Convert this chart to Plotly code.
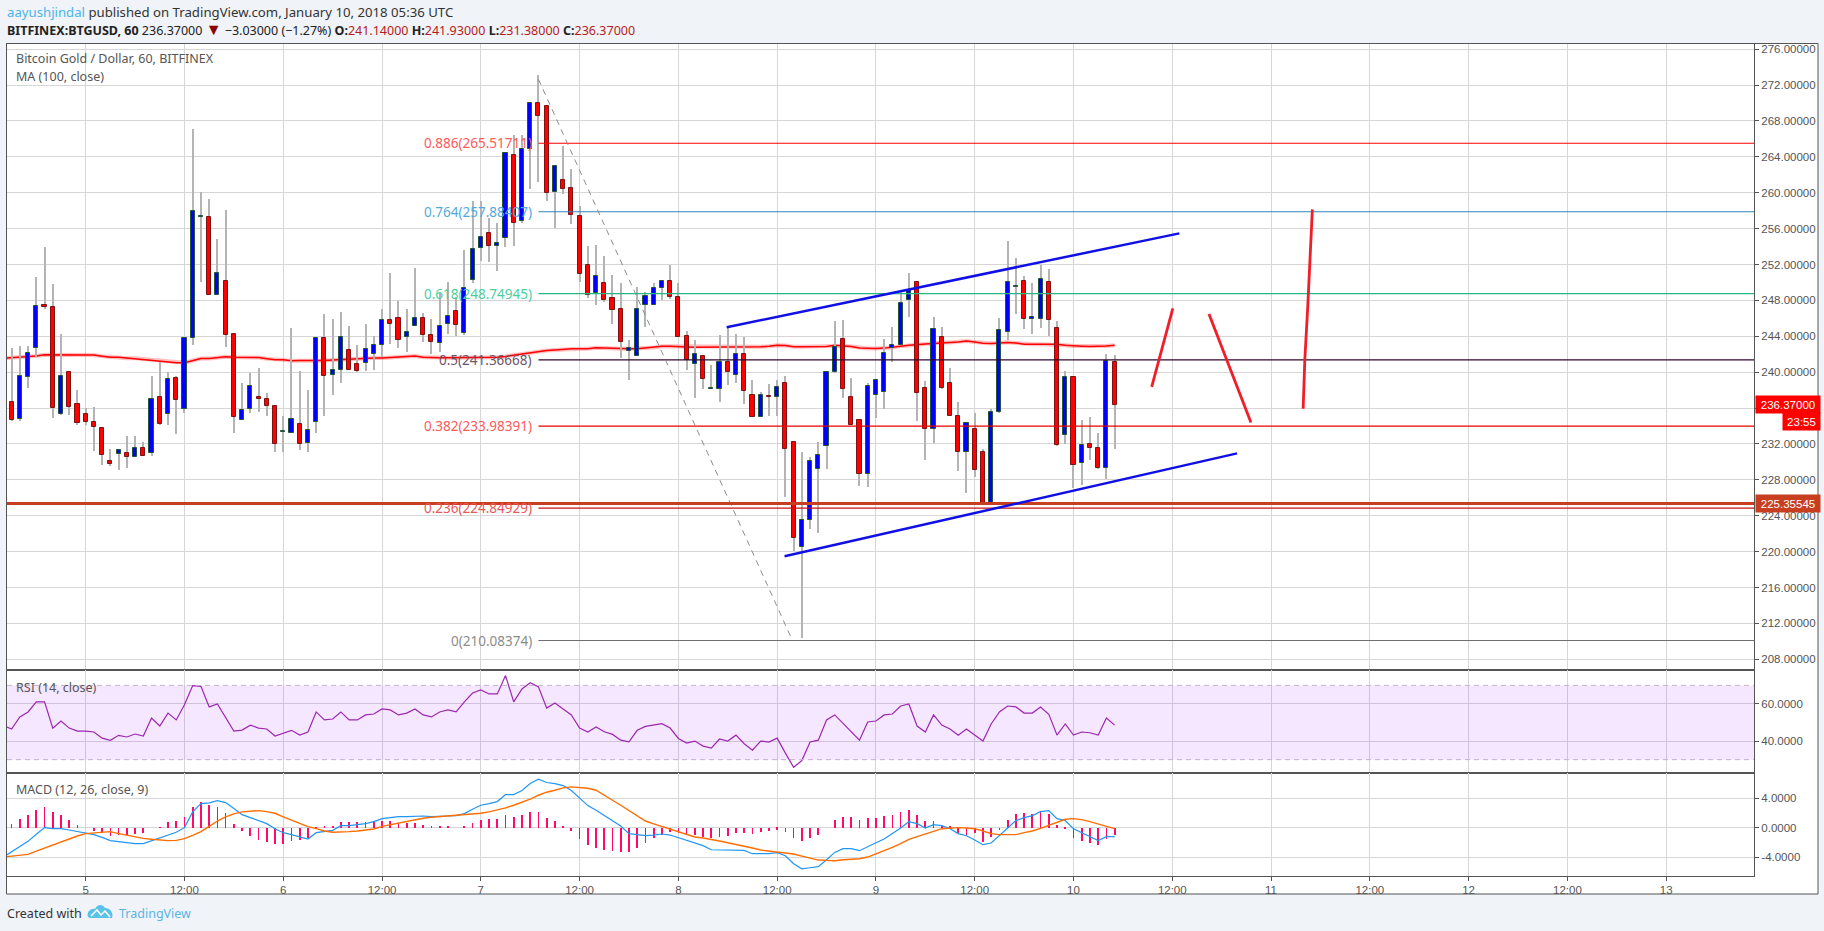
import plotly.graph_objects as go

# Hourly bars, hour 0 is Jan 5 00:00
opens = [236.7, 234.76, 239.44, 242.68, 247.45, 247.29, 235.32, 240.04, 236.47, 235.35, 234.46, 233.8, 230.11, 230.85, 231.0,
         230.52, 231.56, 230.97, 237.25, 235.32, 239.37, 235.91, 243.8, 257.3, 257.32, 248.62, 250.19, 244.28, 234.68, 235.91,
         237.25, 237.03, 236.25, 233.3, 233.25, 234.18, 232.06, 234.4, 243.77, 239.64, 240.2, 242.43, 240.87, 240.98, 241.99,
         242.99, 245.78, 246.0, 243.88, 245.11, 246.0, 244.1, 243.21, 245.33, 246.78, 244.33, 250.24, 253.81, 255.48, 254.03,
         254.96, 264.24, 256.85, 264.91, 270.03, 269.7, 260.12, 261.45, 260.56, 257.44, 251.99, 248.79, 249.98, 248.31, 247.08,
         242.4, 241.85, 247.53, 247.53, 249.42, 250.2, 248.42, 244.0, 240.96, 241.85, 238.15, 238.17, 241.18, 239.73, 242.07,
         237.5, 235.05, 237.32, 237.28, 238.84, 232.17, 220.46, 223.47, 229.16, 231.72, 239.97, 243.65, 237.19, 234.62, 228.6,
         237.41, 237.74, 242.72, 243.06, 248.0, 250.01, 238.19, 233.69, 243.88, 238.75, 235.07, 231.13, 233.62, 231.05, 225.37,
         235.51, 244.44, 249.45, 250.12, 245.96, 245.96, 250.01, 244.88, 232.95, 239.42, 229.83, 231.94, 231.5, 229.27, 241.14]
highs = [242.64, 242.97, 242.97, 250.56, 254.0, 249.78, 244.2, 240.1, 237.96, 236.02, 236.17, 233.94, 231.45, 231.4, 232.94,
         232.83, 232.27, 239.52, 241.12, 240.04, 239.6, 243.85, 267.06, 260.04, 259.26, 254.8, 258.03, 244.3, 238.74, 239.96,
         240.52, 237.73, 236.3, 235.06, 244.92, 240.09, 238.01, 243.8, 246.45, 245.93, 246.67, 245.14, 243.03, 245.37, 244.03,
         247.0, 251.02, 247.93, 247.04, 251.58, 246.56, 245.93, 248.79, 250.01, 248.42, 253.62, 259.07, 259.07, 257.19, 256.63,
         264.5, 266.4, 266.4, 270.03, 273.08, 269.7, 263.0, 265.24, 262.68, 258.56, 254.03, 254.14, 252.91, 250.8, 249.98,
         243.63, 249.53, 248.9, 249.98, 250.2, 251.91, 249.91, 244.56, 243.56, 241.9, 240.77, 244.11, 245.04, 244.3, 243.96,
         239.1, 237.84, 238.65, 239.1, 239.55, 232.2, 231.09, 230.5, 232.2, 240.0, 245.7, 245.81, 239.3, 234.6, 238.75,
         239.2, 243.69, 245.0, 249.04, 251.05, 250.05, 239.0, 246.15, 245.0, 240.46, 236.63, 234.3, 235.4, 231.4, 235.85,
         246.0, 254.62, 252.69, 250.68, 249.94, 252.0, 251.46, 245.66, 240.09, 239.45, 234.62, 234.96, 233.17, 241.98, 241.93]
lows = [234.6, 234.54, 238.22, 241.67, 247.03, 234.87, 235.2, 235.17, 234.09, 234.09, 231.19, 229.63, 229.59, 229.07, 229.29,
        230.5, 230.6, 230.63, 234.09, 234.09, 233.09, 235.43, 243.0, 250.0, 248.6, 248.6, 242.8, 233.2, 234.65, 235.43,
        235.54, 235.1, 231.08, 231.08, 233.17, 231.35, 231.13, 233.25, 235.14, 237.45, 238.83, 240.2, 240.0, 240.13, 240.24,
        241.65, 243.1, 242.69, 242.25, 245.1, 243.36, 242.06, 242.25, 244.25, 244.03, 244.1, 249.9, 252.43, 252.32, 251.32,
        253.95, 254.06, 256.63, 260.45, 261.2, 259.08, 256.07, 259.82, 256.52, 250.05, 248.31, 247.45, 247.86, 245.34, 241.59,
        239.14, 241.8, 245.04, 247.5, 248.01, 248.2, 243.9, 240.21, 237.13, 238.17, 238.1, 236.69, 238.58, 238.8, 236.46,
        235.0, 235.0, 235.13, 235.13, 226.11, 220.05, 210.42, 222.54, 222.1, 229.23, 239.9, 237.15, 234.1, 227.3, 227.22,
        234.92, 235.92, 241.16, 243.0, 246.15, 234.55, 230.2, 232.13, 238.12, 235.1, 229.01, 226.55, 228.3, 225.3, 225.3,
        235.4, 243.58, 246.48, 244.84, 244.29, 244.88, 243.99, 231.8, 231.94, 227.04, 227.37, 230.23, 229.25, 228.12, 231.38]
closes = [234.65, 239.6, 242.16, 247.4, 247.25, 235.99, 239.6, 236.1, 234.31, 234.42, 233.87, 230.74, 229.74, 231.34, 230.52,
          231.56, 230.63, 237.03, 234.2, 239.26, 236.88, 243.83, 258.0, 257.43, 248.62, 251.08, 244.13, 234.98, 235.8, 238.48,
          237.0, 236.21, 231.97, 233.46, 234.74, 232.02, 233.51, 243.77, 239.53, 240.2, 243.88, 240.28, 240.09, 242.54, 242.99,
          245.78, 245.33, 243.55, 244.44, 246.0, 244.1, 243.32, 245.11, 246.22, 245.29, 249.35, 253.7, 255.03, 254.03, 254.36,
          264.46, 256.63, 264.91, 270.03, 268.58, 260.01, 263.01, 260.45, 257.52, 250.98, 248.64, 250.76, 248.09, 246.97, 243.37,
          242.74, 247.08, 248.53, 249.42, 250.2, 248.42, 243.93, 241.4, 242.07, 239.29, 238.2, 241.18, 240.07, 242.07, 237.95,
          235.05, 237.5, 237.24, 238.4, 231.46, 221.46, 223.47, 230.05, 230.72, 239.97, 242.76, 238.08, 234.14, 228.6, 238.41,
          239.08, 242.09, 242.99, 247.67, 249.16, 237.71, 233.69, 244.77, 238.26, 235.14, 231.13, 234.29, 229.12, 225.37, 235.51,
          244.66, 250.01, 249.57, 245.88, 246.11, 250.35, 245.77, 231.83, 239.42, 229.6, 231.83, 231.5, 229.27, 241.2, 236.37]

# Indicators start one bar earlier, that bar is clipped by the left edge
ma_100 = [241.55, 241.6, 241.62, 241.7, 241.8, 241.93, 241.93, 241.93, 241.93, 241.93, 241.93, 241.9, 241.78, 241.67, 241.65,
          241.56, 241.55, 241.45, 241.35, 241.25, 241.15, 241.05, 241.04, 241.3, 241.52, 241.52, 241.65, 241.71, 241.66, 241.65,
          241.65, 241.64, 241.5, 241.38, 241.37, 241.26, 241.3, 241.28, 241.28, 241.3, 241.35, 241.4, 241.5, 241.5, 241.55,
          241.58, 241.58, 241.62, 241.65, 241.7, 241.8, 241.65, 241.6, 241.6, 241.6, 241.6, 241.6, 241.6, 241.6, 241.62,
          241.65, 241.75, 241.9, 242.0, 242.2, 242.35, 242.42, 242.48, 242.55, 242.6, 242.6, 242.6, 242.72, 242.68, 242.6,
          242.62, 242.6, 242.62, 242.72, 242.75, 242.88, 242.88, 242.88, 242.8, 242.78, 242.78, 242.8, 242.82, 242.82, 242.82,
          242.85, 242.85, 242.82, 242.9, 243.0, 242.98, 242.84, 242.82, 242.85, 242.87, 242.87, 243.0, 242.95, 242.85, 242.7,
          242.65, 242.65, 242.68, 242.75, 242.9, 243.0, 243.1, 243.15, 243.2, 243.3, 243.32, 243.35, 243.47, 243.35, 243.22,
          243.2, 243.25, 243.32, 243.25, 243.12, 243.1, 243.1, 243.1, 243.1, 243.0, 242.92, 242.9, 242.85, 242.85, 242.92, 243.0]
rsi = [48.3, 46.5, 53.0, 55.7, 61.1, 61.1, 47.0, 50.8, 47.0, 45.4, 45.4, 44.9, 41.6, 40.4, 43.1, 42.2, 43.8, 42.7, 52.4, 48.1,
       55.1, 51.4, 59.6, 69.9, 69.5, 58.4, 60.0, 52.4, 45.4, 45.9, 48.6, 47.0, 46.5, 42.7, 44.3, 45.8, 43.2, 44.9, 55.7, 51.4,
       51.9, 55.7, 51.4, 51.4, 54.1, 54.6, 57.3, 56.8, 54.1, 55.1, 57.3, 54.1, 53.0, 55.7, 56.8, 55.7, 61.1, 65.9, 67.6, 65.4,
       65.4, 75.3, 61.1, 68.1, 71.4, 69.2, 57.8, 60.5, 57.3, 54.1, 47.0, 44.9, 47.6,
       45.0, 43.6, 40.5, 39.6, 45.8, 47.9, 48.8, 49.4, 47.0, 41.4, 38.9, 40.0, 37.3, 36.2, 41.1, 40.0, 43.2, 38.6, 35.1, 40.0,
       39.5, 41.6, 33.5, 25.9, 29.5, 39.5, 40.5, 51.4, 54.1, 49.7, 45.4, 40.5, 50.3, 50.8, 54.1, 54.6, 58.9, 60.0, 48.1, 44.9,
       54.1, 48.6, 46.5, 43.2, 46.5, 43.1, 40.0, 49.2, 55.7, 58.9, 58.4, 55.1, 55.1, 58.4, 54.4, 43.2, 49.2, 43.2, 44.9, 44.5,
       43.2, 52.4, 48.6]
macd_line = [-3.98, -3.3, -2.58, -1.86, -0.9, 0.0, -0.14, -0.14, -0.32, -0.54, -0.81, -0.95, -1.31, -1.76, -1.9, -2.04, -2.17,
             -2.17, -1.76, -1.36, -0.95, -0.63, 0.0, 2.13, 3.26, 3.35, 3.67, 3.39, 2.58, 1.76, 1.36, 0.95, 0.54, -0.14, -0.68,
             -0.95, -1.27, -1.54, -0.68, -0.54, -0.36, 0.27, 0.27, 0.41, 0.54, 0.81, 1.22, 1.36, 1.49, 1.49, 1.58, 1.58, 1.49,
             1.58, 1.58, 1.63, 1.9, 2.49, 3.03, 3.26, 3.53, 4.48, 4.48, 5.02, 5.97, 6.56, 6.11, 5.97, 5.7, 5.02, 4.07, 2.99, 2.35,
             1.63, 1.0, 0.23, -0.81, -0.95, -1.09, -1.0, -0.86, -1.0, -1.36, -1.72, -1.99, -2.44, -2.99, -2.99, -3.08, -2.99,
             -3.08, -3.53, -3.53, -3.53, -3.39, -3.8, -4.89, -5.57, -5.43, -5.29, -4.34, -3.35, -2.85, -2.85, -3.12, -2.53, -2.04,
             -1.54, -0.81, -0.05, 0.81, 0.54, -0.05, 0.41, 0.27, -0.14, -0.81, -1.09, -1.67, -2.31, -2.08, -1.09, -0.14, 0.95,
             1.36, 1.63, 2.17, 2.31, 1.22, 0.95, -0.14, -0.68, -1.22, -1.76, -1.22, -1.22]
macd_signal = [-3.98, -3.89, -3.8, -3.62, -3.17, -2.76, -2.35, -1.9, -1.49, -1.13, -0.81, -0.72, -0.59, -0.54, -0.81, -1.04, -1.27,
               -1.45, -1.58, -1.72, -1.76, -1.72, -1.49, -1.04, -0.54, 0.18, 0.9, 1.45, 1.86, 2.13, 2.26, 2.31, 2.17, 1.95, 1.45,
               1.04, 0.59, 0.14, -0.14, -0.45, -0.63, -0.63, -0.54, -0.45, -0.32, -0.18, 0.18, 0.41, 0.63, 0.81, 1.04, 1.27, 1.4,
               1.49, 1.58, 1.63, 1.72, 1.86, 1.95, 2.13, 2.35, 2.67, 3.03, 3.39, 3.85, 4.39, 4.8, 5.07, 5.38, 5.52, 5.48, 5.34, 5.07,
               4.34, 3.71, 3.03, 2.35, 1.58, 0.9, 0.5, 0.14, -0.23, -0.59, -0.9, -1.27, -1.4, -1.58, -1.81, -2.04, -2.26, -2.53,
               -2.76, -3.03, -3.17, -3.3, -3.44, -3.57, -3.85, -4.12, -4.39, -4.43, -4.48, -4.34, -4.25, -4.21, -3.98, -3.57, -3.17,
               -2.67, -2.17, -1.58, -1.22, -0.9, -0.5, -0.14, -0.05, 0.0, -0.05, -0.14, -0.45, -0.81, -0.95, -0.95, -0.95, -0.68,
               -0.45, -0.09, 0.32, 0.72, 1.13, 1.22, 1.09, 0.81, 0.54, 0.18, -0.14]
macd_hist = [0.5, 1.18, 1.72, 2.4, 2.81, 2.13, 1.72, 1.04, 0.36, 0.0, -0.5, -0.77, -1.09, -1.04, -0.95, -0.86, -0.72, 0.0, 0.05,
             0.77, 0.9, 1.4, 2.85, 3.44, 3.08, 2.81, 2.0, 0.54, -0.45, -1.13, -1.67, -1.9, -2.17, -2.17, -1.81, -1.72, -1.36, -0.23,
             0.23, 0.23, 0.77, 0.77, 0.77, 0.77, 0.86, 0.86, 0.86, 0.68, 0.68, 0.63, 0.36, 0.09, 0.09, 0.09, 0.0, 0.23, 0.63, 1.04,
             1.18, 1.18, 1.72, 1.45, 1.72, 2.13, 2.13, 1.31, 0.9, 0.23, -0.45, -1.54, -2.35, -2.76,
             -3.03, -3.12, -3.3, -3.3, -2.76, -2.08, -1.36, -0.95, -0.54, -0.77, -0.9, -1.04, -1.31, -1.45, -1.27, -1.13, -0.72,
             -0.72, -0.86, -0.54, -0.45, -0.27, -0.54, -1.4, -1.81, -1.4, -1.0, 0.0, 1.04, 1.45, 1.45, 1.04, 1.31, 1.31, 1.58, 1.72,
             2.13, 2.4, 1.72, 0.9, 0.9, 0.23, 0.14, -0.77, -1.13, -0.77, -1.95, -1.31, -0.32, 1.04, 1.86, 1.99, 1.86, 2.26, 1.86,
             0.36, -0.18, -1.4, -1.81, -2.08, -2.35, -1.54, -1.0]

# Fibonacci retracement
fib_ratios = ['0.886', '0.764', '0.618', '0.5', '0.382', '0.236', '0']
fib_prices = [265.51711, 257.88407, 248.74945, 241.36668, 233.98391, 224.84929, 210.08374]
fib_colors = ['#ff0000', '#2f86ba', '#25b884', '#2e0a2e', '#e80000', '#c81010', '#707070']
fib_text_colors = ['#ff5a5a', '#55a8dc', '#4ccfa0', '#6b566b', '#ff5a5a', '#e85a5a', '#8c8c8c']
fib_start_hour = 55

# Drawings
support_price = 225.35545
last_price = 236.37
countdown = '23:55'
upper_channel_x = [77.87, 132.86]
upper_channel_y = [245.0, 255.47]
lower_channel_x = [84.9, 139.87]
lower_channel_y = [219.47, 230.95]
fib_trend_x = [55, 85.86]
fib_trend_y = [272.65, 210.08374]
stroke_1_x = [129.5, 132.07]
stroke_1_y = [238.37, 247.11]
stroke_2_x = [136.46, 141.56]
stroke_2_y = [246.48, 234.4]
stroke_3_x = [147.9, 148.1, 148.46, 148.68, 148.85, 149.02]
stroke_3_y = [235.92, 241.35, 247.3, 251.75, 255.1, 258.15]

# Axis ticks
tick_hours = [0, 12, 24, 36, 48, 60, 72, 84, 96, 108, 120, 132, 144, 156, 168, 180, 192]
tick_labels = ['5', '12:00', '6', '12:00', '7', '12:00', '8', '12:00', '9', '12:00', '10', '12:00', '11', '12:00', '12', '12:00', '13']
rsi_ticks = [40, 60]
rsi_tick_labels = ['40.0000', '60.0000']
macd_ticks = [-4, 0, 4]
macd_tick_labels = ['-4.0000', '0.0000', '4.0000']

assert all(len(s) == 135 for s in (opens, highs, lows, closes, macd_hist))
assert all(len(s) == 136 for s in (ma_100, rsi, macd_line, macd_signal))

hours = list(range(-9, 126))
ind_hours = list(range(-10, 126))

W, H = 1824, 931
X_MIN, X_MAX = -9.56, 202.67
BG = '#f0f3f7'
GRID = '#d6d6d6'
TEXT = '#555555'
AXIS = '#555555'
FONT = 'Liberation Sans'
UI_FONT = 'Noto Sans'


def fx(px):
    return px / W


def fy(px):
    return 1 - px / H


def cloud_path():
    pts = 'M{} {} C{} {} {} {} {} {} C{} {} {} {} {} {} C{} {} {} {} {} {} L{} {} Z'
    vals = [(88, 917), (86, 911), (92, 908), (95, 909), (97, 904), (103, 904), (105, 908),
            (110, 908), (114, 913), (112, 918), (90, 918)]
    flat = []
    for x, y in vals:
        flat += [round(fx(x), 5), round(fy(y), 5)]
    return pts.format(*flat)


def zigzag_path():
    vals = [(91, 916), (97, 910), (101, 915), (105, 911), (110, 917)]
    return 'M' + ' L'.join(f'{round(fx(x), 5)} {round(fy(y), 5)}' for x, y in vals)


fig = go.Figure()

# MA sits under the candles on the base axis, glow first
fig.add_trace(go.Scatter(x=ind_hours, y=ma_100, mode='lines', line=dict(color='rgba(255,0,0,0.25)', width=4), xaxis='x', yaxis='y'))
fig.add_trace(go.Scatter(x=ind_hours, y=ma_100, mode='lines', line=dict(color='#ff0000', width=1.5), xaxis='x', yaxis='y'))

# Candles go on an overlaying axis so they cover the MA, drawings stay on top as scatters
fig.add_trace(go.Bar(x=hours, base=lows, y=[h - l for h, l in zip(highs, lows)], width=0.13,
                     marker=dict(color='#b4b4b4', line=dict(width=0)), xaxis='x', yaxis='y4'))

up = [i for i in range(len(hours)) if closes[i] >= opens[i]]
down = [i for i in range(len(hours)) if closes[i] < opens[i]]
fig.add_trace(go.Bar(x=[hours[i] for i in up], base=[opens[i] for i in up], y=[closes[i] - opens[i] for i in up], width=0.5,
                     marker=dict(color='#0000ff', line=dict(color='#225437', width=1)), xaxis='x', yaxis='y4'))
fig.add_trace(go.Bar(x=[hours[i] for i in down], base=[closes[i] for i in down], y=[opens[i] - closes[i] for i in down], width=0.5,
                     marker=dict(color='#ff0000', line=dict(color='#7a1414', width=1)), xaxis='x', yaxis='y4'))

for price, color in zip(fib_prices, fib_colors):
    fig.add_trace(go.Scatter(x=[fib_start_hour, X_MAX], y=[price, price], mode='lines', line=dict(color=color, width=1.1), xaxis='x', yaxis='y4'))
fig.add_trace(go.Scatter(x=fib_trend_x, y=fib_trend_y, mode='lines', line=dict(color='#8c8c8c', width=1, dash='6px,5px'), xaxis='x', yaxis='y4'))
fig.add_trace(go.Scatter(x=[X_MIN, X_MAX], y=[support_price, support_price], mode='lines', line=dict(color='#c83e20', width=3), xaxis='x', yaxis='y4'))
for cx, cy in ((upper_channel_x, upper_channel_y), (lower_channel_x, lower_channel_y)):
    fig.add_trace(go.Scatter(x=cx, y=cy, mode='lines', line=dict(color='#1010e6', width=2.5), xaxis='x', yaxis='y4'))
for cx, cy in ((stroke_1_x, stroke_1_y), (stroke_2_x, stroke_2_y), (stroke_3_x, stroke_3_y)):
    fig.add_trace(go.Scatter(x=cx, y=cy, mode='lines', line=dict(color='#f01e28', width=2.8), xaxis='x', yaxis='y4'))

# RSI pane
fig.add_trace(go.Scatter(x=ind_hours, y=rsi, mode='lines', line=dict(color='#9c27b0', width=1.2), xaxis='x2', yaxis='y2'))

# MACD pane
fig.add_trace(go.Bar(x=hours, y=macd_hist, width=0.09, marker=dict(color='#ff0a6c', line=dict(width=0)), xaxis='x3', yaxis='y3'))
fig.add_trace(go.Scatter(x=ind_hours, y=macd_line, mode='lines', line=dict(color='#2196f3', width=1.2), xaxis='x3', yaxis='y3'))
fig.add_trace(go.Scatter(x=ind_hours, y=macd_signal, mode='lines', line=dict(color='#ff6d00', width=1.4), xaxis='x3', yaxis='y3'))

common_x = dict(range=[X_MIN, X_MAX], tickmode='array', tickvals=tick_hours, ticktext=tick_labels, showgrid=True, gridcolor=GRID,
                gridwidth=1, zeroline=False, showline=True, linecolor=AXIS, linewidth=1, mirror=True, fixedrange=True)
common_y = dict(side='right', showgrid=True, gridcolor=GRID, gridwidth=1, zeroline=False, showline=True, linecolor=AXIS, linewidth=1,
                mirror=True, ticks='outside', ticklen=4, tickcolor=AXIS, tickfont=dict(family=FONT, size=11.5, color=TEXT), fixedrange=True)
x_domain = [fx(7), fx(1754)]
price_range = [206.8, 276.58]

fig.update_layout(
    width=W, height=H,
    margin=dict(l=0, r=0, t=0, b=0),
    paper_bgcolor=BG,
    plot_bgcolor='rgba(0,0,0,0)',
    barmode='overlay',
    bargap=0,
    showlegend=False,
    xaxis=dict(common_x, domain=x_domain, anchor='y', showticklabels=False),
    xaxis2=dict(common_x, domain=x_domain, anchor='y2', showticklabels=False),
    xaxis3=dict(common_x, domain=x_domain, anchor='y3', ticks='outside', ticklen=4, tickcolor=AXIS,
                tickfont=dict(family=FONT, size=11.5, color=TEXT)),
    yaxis=dict(common_y, domain=[fy(670), fy(44)], anchor='x', range=price_range, tick0=208, dtick=4, tickformat='.5f'),
    yaxis2=dict(common_y, domain=[fy(773), fy(670)], anchor='x2', range=[22.8, 78.3], tickmode='array', tickvals=rsi_ticks, ticktext=rsi_tick_labels),
    yaxis3=dict(common_y, domain=[fy(875.5), fy(773)], anchor='x3', range=[-6.48, 7.4], tickmode='array', tickvals=macd_ticks, ticktext=macd_tick_labels),
    yaxis4=dict(overlaying='y', anchor='x', range=price_range, visible=False, fixedrange=True),
)

shapes = [
    # white chart card with its outer frame
    dict(type='rect', xref='paper', yref='paper', x0=fx(6.5), x1=fx(1818), y0=fy(894), y1=fy(43.5), fillcolor='white',
         line=dict(color=AXIS, width=1), layer='below'),
    # RSI band
    dict(type='rect', xref='x2', yref='y2', x0=X_MIN, x1=X_MAX, y0=30, y1=70, fillcolor='rgba(153,21,255,0.1)',
         line=dict(width=0), layer='between'),
    dict(type='line', xref='x2', yref='y2', x0=X_MIN, x1=X_MAX, y0=70, y1=70, line=dict(color='#c4b0cc', width=1, dash='5px,4px')),
    dict(type='line', xref='x2', yref='y2', x0=X_MIN, x1=X_MAX, y0=30, y1=30, line=dict(color='#c4b0cc', width=1, dash='5px,4px')),
    # footer logo
    dict(type='path', xref='paper', yref='paper', path=cloud_path(), fillcolor='#5bc2e7', line=dict(width=0)),
    dict(type='path', xref='paper', yref='paper', path=zigzag_path(), line=dict(color='white', width=1.5)),
]
fig.update_layout(shapes=shapes)


def label(x, y, text, size=12.5, color=TEXT, family=UI_FONT):
    fig.add_annotation(xref='paper', yref='paper', x=fx(x), y=fy(y), text=text, showarrow=False, xanchor='left', yanchor='middle',
                       align='left', font=dict(family=family, size=size, color=color))


value_red = '#b71c1c'
label(5, 12, "<span style='color:#4db5e8'>aayushjindal</span> published on TradingView.com, January 10, 2018 05:36 UTC", size=13.2, color='#333333')
label(5, 29.5, "<b>BITFINEX:BTGUSD, 60</b> 236.37000 <span style='color:#8b0000;font-size:16px'>▼</span> −3.03000 (−1.27%) "
      f"<b>O:</b><span style='color:{value_red}'>241.14000</span> <b>H:</b><span style='color:{value_red}'>241.93000</span> "
      f"<b>L:</b><span style='color:{value_red}'>231.38000</span> <b>C:</b><span style='color:{value_red}'>236.37000</span>", color='#222222')
label(13.5, 59, 'Bitcoin Gold / Dollar, 60, BITFINEX')
label(13.5, 77, 'MA (100, close)')
label(13.5, 687, 'RSI (14, close)')
label(13.5, 789, 'MACD (12, 26, close, 9)')
label(5, 913, 'Created with', color='#333333')
label(117, 913, 'TradingView', color='#5ab4e4')

for ratio, price, color in zip(fib_ratios, fib_prices, fib_text_colors):
    fig.add_annotation(xref='paper', yref='y', x=fx(534), y=price, text=f'{ratio}({price:.5f})', showarrow=False, xanchor='right',
                       yanchor='middle', font=dict(family=UI_FONT, size=13.5, color=color))

# Price tags on the right scale
for price, text, color in ((support_price, f'{support_price:.5f}', '#c83e20'), (last_price, f'{last_price:.5f}', '#ff0000')):
    fig.add_annotation(xref='paper', yref='y', x=fx(1754.5), y=price, text=text, showarrow=False, xanchor='left', yanchor='middle',
                       width=62, height=15, bgcolor=color, font=dict(family=FONT, size=11.5, color='white'))
fig.add_annotation(xref='paper', yref='y', x=fx(1782), y=last_price, yshift=-17, text=countdown, showarrow=False, xanchor='left',
                   yanchor='middle', width=35, height=15, bgcolor='#ff0000', font=dict(family=FONT, size=11.5, color='white'))

fig.write_html("out.html", config={'displayModeBar': False},
               post_script="document.body.style.margin='0';document.body.style.overflow='hidden';")
